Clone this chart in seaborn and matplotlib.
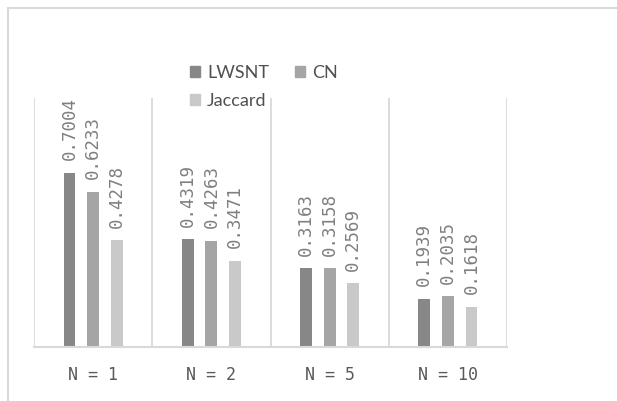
import pandas as pd
import seaborn as sns
import matplotlib.pyplot as plt
from matplotlib.patches import Patch, Rectangle

categories = ["N = 1", "N = 2", "N = 5", "N = 10"]
methods = ["LWSNT", "CN", "Jaccard"]
lwsnt = [0.7004, 0.4319, 0.3163, 0.1939]
cn = [0.6233, 0.4263, 0.3158, 0.2035]
jaccard = [0.4278, 0.3471, 0.2569, 0.1618]

colors = ["#878787", "#a5a5a5", "#c9c9c9"]
grid_color = "#d9d9d9"

rows = []
for name, vals in zip(methods, [lwsnt, cn, jaccard]):
    for cat, v in zip(categories, vals):
        rows.append({"N": cat, "method": name, "value": v})
df = pd.DataFrame(rows)

sns.set_style("white")
fig = plt.figure(figsize=(6.17, 4.01), dpi=100)
ax = fig.add_axes([34 / 617, 1 - 347 / 401, (507 - 34) / 617, (347 - 98) / 401])

sns.barplot(data=df, x="N", y="value", hue="method", hue_order=methods,
            order=categories, palette=colors, saturation=1, width=0.6, gap=0.5,
            errorbar=None, legend=False, linewidth=0, ax=ax)

for cont in ax.containers:
    ax.bar_label(cont, fmt="%.4f", rotation=90, padding=9, color="#7f7f7f",
                 fontsize=12.5, family="DejaVu Sans Mono")

ax.set_xlim(-0.5, 3.5)
ax.set_ylim(0, 1)
ax.vlines([-0.5, 0.5, 1.5, 2.5, 3.5], 0, 1, color=grid_color, lw=1.3, zorder=0)
for s in ["top", "right", "left"]:
    ax.spines[s].set_visible(False)
ax.spines["bottom"].set_color(grid_color)
ax.spines["bottom"].set_linewidth(1.5)
ax.set_yticks([])
ax.set_xlabel("")
ax.set_ylabel("")
ax.tick_params(axis="x", length=0, pad=14, labelsize=12, labelcolor="#595959")
for lbl in ax.get_xticklabels():
    lbl.set_family("DejaVu Sans Mono")

# outer chart frame
fig.patches.append(Rectangle((8 / 617, -0.05), 1.0, 1 - 8 / 401 + 0.05,
                             transform=fig.transFigure, fill=False,
                             edgecolor=grid_color, lw=1.5))

handles = [Patch(color=c) for c in colors]
# reorder so entries read row by row: LWSNT, CN / Jaccard
order = [0, 2, 1]
fig.legend([handles[i] for i in order], [methods[i] for i in order],
           ncol=2, loc="upper left", bbox_to_anchor=(190 / 617, 1 - 65 / 401),
           frameon=False, borderpad=0, borderaxespad=0, handlelength=0.55,
           handleheight=0.55, handletextpad=0.4, columnspacing=1.45,
           labelspacing=0.65, prop={"family": "Lato", "size": 13},
           labelcolor="#505050")

fig.savefig("out.png", dpi=100)
